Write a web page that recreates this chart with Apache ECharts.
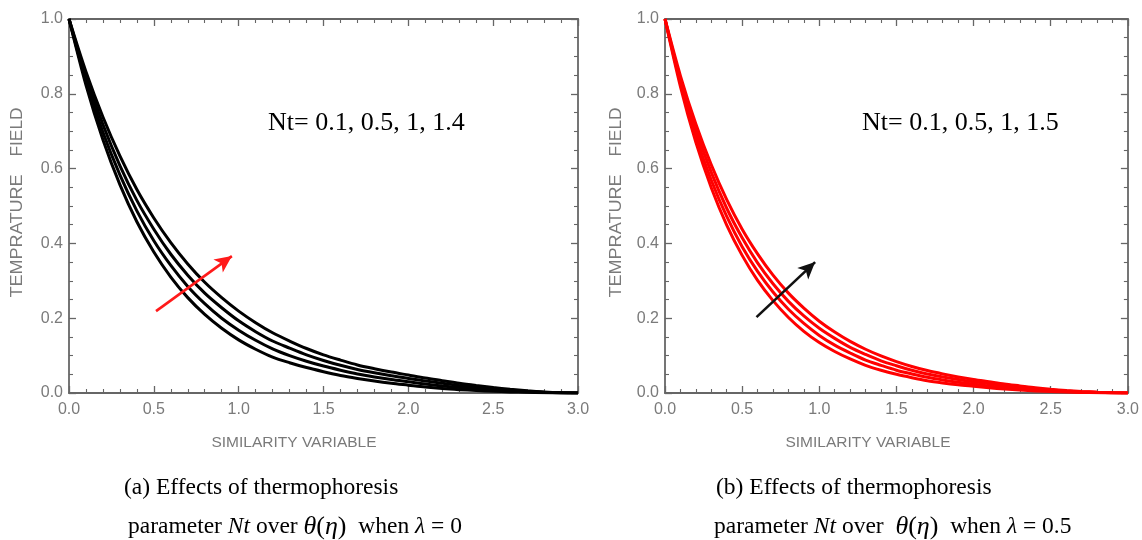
<!DOCTYPE html>
<html>
<head>
<meta charset="utf-8">
<script src="https://cdn.jsdelivr.net/npm/echarts@6/dist/echarts.min.js"></script>
<style>
html,body{margin:0;padding:0;background:#fff;}
#chart{width:1142px;height:540px;}
</style>
</head>
<body>
<div id="chart"></div>
<script>
// similarity variable (eta) samples
const eta = [0,0.1,0.2,0.3,0.4,0.5,0.6,0.7,0.8,0.9,1.0,1.1,1.2,1.3,1.4,1.5,1.6,1.7,1.8,1.9,2.0,2.1,2.2,2.3,2.4,2.5,2.6,2.7,2.8,2.9,3.0];

// (a) lambda = 0, Nt = 0.1, 0.5, 1, 1.4
const leftNt01 = [1,0.823,0.677,0.557,0.458,0.377,0.310,0.255,0.210,0.173,0.142,0.117,0.096,0.081,0.068,0.057,0.047,0.039,0.032,0.026,0.021,0.016,0.012,0.009,0.0066,0.0046,0.003,0.0018,0.0009,0.0003,0];
const leftNt05 = [1,0.835,0.697,0.583,0.487,0.407,0.341,0.285,0.239,0.200,0.168,0.141,0.118,0.100,0.085,0.072,0.061,0.051,0.043,0.036,0.030,0.024,0.019,0.0147,0.011,0.0079,0.0053,0.0032,0.0016,0.0005,0];
const leftNt1  = [1,0.847,0.718,0.608,0.515,0.438,0.371,0.315,0.267,0.228,0.193,0.164,0.139,0.120,0.102,0.087,0.074,0.063,0.054,0.046,0.039,0.032,0.026,0.0203,0.0155,0.0112,0.0075,0.0046,0.0023,0.0008,0];
const leftNt14 = [1,0.859,0.738,0.634,0.544,0.468,0.402,0.345,0.296,0.255,0.219,0.188,0.161,0.139,0.119,0.102,0.088,0.075,0.065,0.056,0.048,0.040,0.033,0.026,0.020,0.0145,0.0098,0.006,0.003,0.001,0];

// (b) lambda = 0.5, Nt = 0.1, 0.5, 1, 1.5
const rightNt01 = [1,0.819,0.670,0.549,0.449,0.368,0.301,0.247,0.202,0.165,0.135,0.111,0.091,0.074,0.061,0.050,0.041,0.033,0.027,0.022,0.018,0.014,0.0105,0.0078,0.0056,0.0039,0.0025,0.0015,0.0008,0.0003,0];
const rightNt05 = [1,0.829,0.686,0.569,0.472,0.391,0.325,0.270,0.224,0.186,0.154,0.128,0.107,0.088,0.074,0.061,0.051,0.042,0.035,0.029,0.024,0.019,0.015,0.0115,0.0084,0.006,0.004,0.0024,0.0013,0.0005,0];
const rightNt1  = [1,0.838,0.703,0.590,0.494,0.415,0.348,0.292,0.245,0.206,0.173,0.146,0.122,0.103,0.086,0.073,0.061,0.051,0.043,0.036,0.030,0.025,0.0195,0.015,0.011,0.008,0.0054,0.0033,0.0017,0.0006,0];
const rightNt15 = [1,0.848,0.719,0.610,0.517,0.438,0.372,0.315,0.267,0.227,0.192,0.163,0.138,0.117,0.099,0.084,0.071,0.060,0.051,0.043,0.036,0.030,0.024,0.019,0.014,0.010,0.0068,0.0042,0.0022,0.0008,0];

// arrow annotations (data coordinates: tail, head)
const leftArrow  = [[0.513,0.219],[0.96,0.366]];
const rightArrow = [[0.593,0.203],[0.973,0.350]];

const xTicks = {min:0,max:3,interval:0.5};
const yTicks = {min:0,max:1,interval:0.2};

const labelColor = '#7a7a7a';
const lineColor = '#666666';
const sans = 'Liberation Sans, Arial, sans-serif';
const serif = 'Liberation Serif, Times New Roman, serif';

function pair(a){ return eta.map((x,i)=>[x,a[i]]); }

function xAxisDef(grid, pos, showLabel){
  return {
    type:'value', gridIndex:grid, position:pos, min:xTicks.min, max:xTicks.max, interval:xTicks.interval,
    axisLine:{show:true,onZero:false,lineStyle:{color:lineColor,width:1.8}},
    axisTick:{show:true,inside:true,length:7,lineStyle:{color:lineColor,width:1.3}},
    minorTick:{show:true,splitNumber:5,length:4,lineStyle:{color:lineColor,width:1.1}},
    splitLine:{show:false},
    axisLabel:{show:showLabel,color:labelColor,fontFamily:sans,fontSize:16,margin:9,formatter:v=>v.toFixed(1)}
  };
}
function yAxisDef(grid, pos, showLabel){
  return {
    type:'value', gridIndex:grid, position:pos, min:yTicks.min, max:yTicks.max, interval:yTicks.interval,
    axisLine:{show:true,onZero:false,lineStyle:{color:lineColor,width:1.8}},
    axisTick:{show:true,inside:true,length:7,lineStyle:{color:lineColor,width:1.3}},
    minorTick:{show:true,splitNumber:4,length:4,lineStyle:{color:lineColor,width:1.1}},
    splitLine:{show:false},
    axisLabel:{show:showLabel,color:labelColor,fontFamily:sans,fontSize:16,margin:6,formatter:v=>v.toFixed(1)}
  };
}
function curve(name, data, xi, yi, color){
  return {name, type:'line', xAxisIndex:xi, yAxisIndex:yi, data:pair(data), smooth:0.3, showSymbol:false,
    lineStyle:{color, width:3}, z:3, animation:false};
}
function arrow(xi, yi, coords, color){
  return {type:'line', xAxisIndex:xi, yAxisIndex:yi, data:[], animation:false,
    markLine:{silent:true, symbol:['none','arrow'], symbolSize:[12,17], animation:false,
      lineStyle:{color, width:2.6, type:'solid'}, label:{show:false},
      data:[[{coord:coords[0]},{coord:coords[1]}]]}};
}
function vText(x, y, txt, sx){
  return {type:'text', x, y, rotation:Math.PI/2, scaleX:sx, style:{text:txt, font:'16px '+sans, fill:labelColor, align:'center', verticalAlign:'middle'}};
}

const chart = echarts.init(document.getElementById('chart'), null, {renderer:'canvas'});
chart.setOption({
  backgroundColor:'#fff',
  animation:false,
  grid:[
    {left:69, top:19, width:509, height:374},
    {left:665, top:19, width:466, height:374}
  ],
  xAxis:[xAxisDef(0,'bottom',true), xAxisDef(0,'top',false), xAxisDef(1,'bottom',true), xAxisDef(1,'top',false)],
  yAxis:[yAxisDef(0,'left',true), yAxisDef(0,'right',false), yAxisDef(1,'left',true), yAxisDef(1,'right',false)],
  series:[
    curve('Nt=0.1', leftNt01, 0, 0, '#000'),
    curve('Nt=0.5', leftNt05, 0, 0, '#000'),
    curve('Nt=1', leftNt1, 0, 0, '#000'),
    curve('Nt=1.4', leftNt14, 0, 0, '#000'),
    curve('Nt=0.1', rightNt01, 2, 2, '#ff0000'),
    curve('Nt=0.5', rightNt05, 2, 2, '#ff0000'),
    curve('Nt=1', rightNt1, 2, 2, '#ff0000'),
    curve('Nt=1.5', rightNt15, 2, 2, '#ff0000'),
    arrow(0, 0, leftArrow, '#ff1a1a'),
    arrow(2, 2, rightArrow, '#111')
  ],
  graphic:[
    {type:'text', x:268, y:123, style:{text:'Nt= 0.1, 0.5, 1, 1.4', font:'26px '+serif, fill:'#000', verticalAlign:'middle'}},
    {type:'text', x:862, y:123, style:{text:'Nt= 0.1, 0.5, 1, 1.5', font:'26px '+serif, fill:'#000', verticalAlign:'middle'}},
    {type:'text', x:294, y:443, style:{text:'SIMILARITY VARIABLE', font:'15.5px '+sans, fill:labelColor, align:'center', verticalAlign:'middle'}},
    {type:'text', x:868, y:443, style:{text:'SIMILARITY VARIABLE', font:'15.5px '+sans, fill:labelColor, align:'center', verticalAlign:'middle'}},
    vText(18, 236, 'TEMPRATURE', 1.13),
    vText(18, 132, 'FIELD', 1.08),
    vText(617, 236, 'TEMPRATURE', 1.13),
    vText(617, 132, 'FIELD', 1.08),
    {type:'text', x:124, y:488, style:{text:'(a) Effects of thermophoresis', font:'23.5px '+serif, fill:'#000', verticalAlign:'middle'}},
    {type:'text', x:716, y:488, style:{text:'(b) Effects of thermophoresis', font:'23.5px '+serif, fill:'#000', verticalAlign:'middle'}},
    {type:'text', x:128, y:527, style:{text:'parameter {i|Nt} over {m|θ}{n|(}{m|η}{n|)}  when {i|λ} = 0', font:'23.5px '+serif, fill:'#000', verticalAlign:'middle',
      rich:{i:{fontStyle:'italic', fontFamily:serif, fontSize:23.5}, m:{fontStyle:'italic', fontFamily:serif, fontSize:26}, n:{fontFamily:serif, fontSize:26}}}},
    {type:'text', x:714, y:527, style:{text:'parameter {i|Nt} over  {m|θ}{n|(}{m|η}{n|)}  when {i|λ} = 0.5', font:'23.5px '+serif, fill:'#000', verticalAlign:'middle',
      rich:{i:{fontStyle:'italic', fontFamily:serif, fontSize:23.5}, m:{fontStyle:'italic', fontFamily:serif, fontSize:26}, n:{fontFamily:serif, fontSize:26}}}}
  ]
});
</script>
</body>
</html>
